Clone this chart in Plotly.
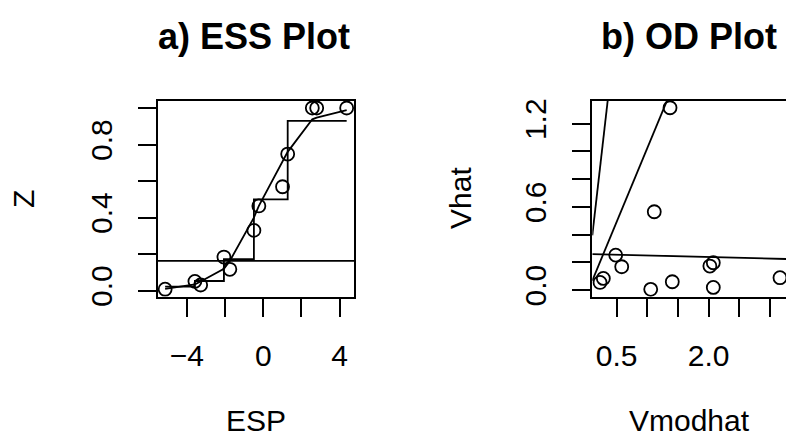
import plotly.graph_objects as go
import numpy as np

# ---------------- data ----------------
# a) ESS plot
esp = [-5.14, -3.58, -3.28, -2.06, -1.75, -0.49, -0.23, 1.01, 1.28, 2.57, 2.80, 4.37]
z = [0.008, 0.051, 0.031, 0.184, 0.117, 0.33, 0.464, 0.569, 0.748, 1.0, 1.0, 1.0]
step_z = [0.022, 0.053, 0.053, 0.173, 0.173, 0.50, 0.50, 0.50, 0.93, 0.93, 0.93, 0.93]
smooth_z = [0.01, 0.035, 0.05, 0.12, 0.163, 0.40, 0.464, 0.71, 0.76, 0.938, 0.947, 0.989]
ess_hline = 0.163
ess_xticks = [-4, -2, 0, 2, 4]
ess_xlabels = ["\u22124", "", "0", "", "4"]
ess_yticks = [0.0, 0.2, 0.4, 0.6, 0.8, 1.0]
ess_ylabels = ["0.0", "", "0.4", "", "0.8", ""]

# b) OD plot
vmodhat = [0.228, 0.282, 0.484, 0.582, 1.055, 1.113, 1.37, 1.407, 2.02, 2.076, 2.076, 3.164]
vhat = [0.055, 0.084, 0.252, 0.168, 0.005, 0.565, 1.315, 0.06, 0.173, 0.197, 0.019, 0.089]
od_lines = [(0.0, 3.87), (-0.04, 1.065), (0.261, -0.0114)]  # (intercept, slope)
od_xticks = [0.5, 1.0, 1.5, 2.0, 2.5, 3.0]
od_xlabels = ["0.5", "", "", "2.0", "", ""]
od_yticks = [0.0, 0.2, 0.4, 0.6, 0.8, 1.0, 1.2]
od_ylabels = ["0.0", "", "", "0.6", "", "", "1.2"]

# ---------------- figure ----------------
W, H = 786, 448
FONT = "Liberation Sans, Arial, Helvetica, sans-serif"
LW = 1.8
ess_xrange = [-5.53, 4.77]
ess_yrange = [-0.033, 1.04]
od_xrange = [0.102, 3.262]
od_yrange = [-0.048, 1.366]

fig = go.Figure()
line_style = dict(color="black", width=LW)
marker_style = dict(symbol="circle-open", size=13, color="black", line=dict(width=LW, color="black"))

# ESS panel
fig.add_trace(go.Scatter(x=ess_xrange, y=[ess_hline, ess_hline], mode="lines", line=line_style,
                         xaxis="x", yaxis="y", hoverinfo="skip"))
fig.add_trace(go.Scatter(x=esp, y=step_z, mode="lines", line=dict(color="black", width=LW, shape="hv"),
                         xaxis="x", yaxis="y"))
fig.add_trace(go.Scatter(x=esp, y=smooth_z, mode="lines", line=line_style, xaxis="x", yaxis="y"))
fig.add_trace(go.Scatter(x=esp, y=z, mode="markers", marker=marker_style, xaxis="x", yaxis="y"))

# OD panel
for a, b in od_lines:
    xs = np.array(od_xrange)
    fig.add_trace(go.Scatter(x=xs, y=a + b * xs, mode="lines", line=line_style,
                             xaxis="x2", yaxis="y2"))
fig.add_trace(go.Scatter(x=vmodhat, y=vhat, mode="markers", marker=marker_style,
                         xaxis="x2", yaxis="y2", cliponaxis=True))

ydom = [(H - 296.7) / H, (H - 100.7) / H]
tickfont = dict(family=FONT, size=30, color="black")
common_x = dict(showgrid=False, zeroline=False, showline=True, linecolor="black", linewidth=LW,
                ticks="outside", ticklen=18, tickwidth=LW, tickcolor="black", tickfont=tickfont,
                ticklabelstandoff=13, automargin=False)
common_y = dict(showgrid=False, zeroline=False, showline=True, linecolor="black", linewidth=LW,
                ticks="outside", ticklen=18, tickwidth=LW, tickcolor="black", tickfont=tickfont,
                tickangle=-90, ticklabelstandoff=14, automargin=False)

fig.update_layout(
    width=W, height=H,
    margin=dict(l=0, r=0, t=0, b=0),
    paper_bgcolor="white", plot_bgcolor="white",
    showlegend=False,
    font=dict(family=FONT, color="black"),
    xaxis=dict(common_x, domain=[157.7 / W, 354.3 / W], range=ess_xrange, anchor="y",
               tickvals=ess_xticks, ticktext=ess_xlabels, mirror=True),
    yaxis=dict(common_y, domain=ydom, range=ess_yrange, anchor="x",
               tickvals=ess_yticks, ticktext=ess_ylabels, mirror=True),
    xaxis2=dict(common_x, domain=[592.3 / W, 1.0], range=od_xrange, anchor="y2",
                tickvals=od_xticks, ticktext=od_xlabels, mirror=True),
    yaxis2=dict(common_y, domain=ydom, range=od_yrange, anchor="x2",
                tickvals=od_yticks, ticktext=od_ylabels, mirror=False),
)

def ann(text, px, py, size, bold=False, angle=0):
    fig.add_annotation(text=f"<b>{text}</b>" if bold else text, x=px / W, y=1 - py / H,
                       xref="paper", yref="paper", showarrow=False, xanchor="center",
                       yanchor="middle", textangle=angle,
                       font=dict(family=FONT, size=size, color="black"))

ann("a) ESS Plot", 254, 37, 36, bold=True)
ann("b) OD Plot", 689, 37, 36, bold=True)
ann("ESP", 256, 420, 30)
ann("Vmodhat", 689, 420, 30)
ann("Z", 23, 199, 30, angle=-90)
ann("Vhat", 460, 198, 30, angle=-90)

fig.write_html("out.html", config={"displayModeBar": False},
               post_script="document.body.style.margin='0';document.body.style.overflow='hidden';")
